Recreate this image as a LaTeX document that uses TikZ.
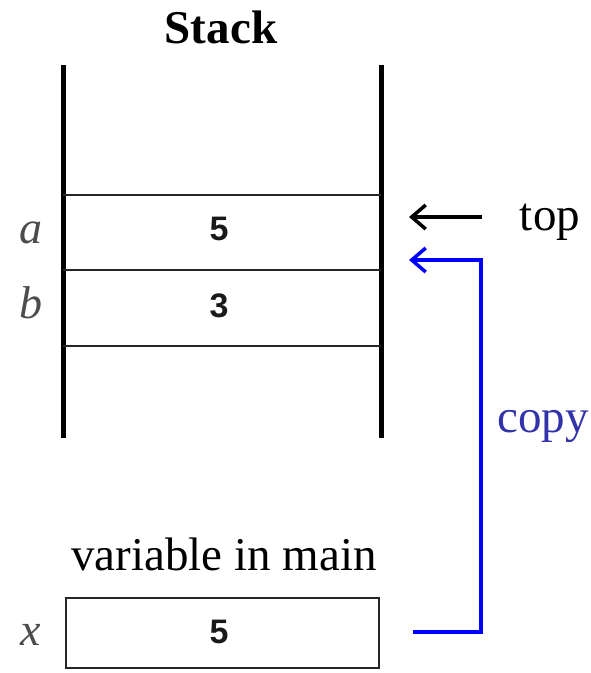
\documentclass[tikz,border=0pt]{standalone}
\usepackage{fontspec}
\setmainfont{Liberation Serif}
\newfontfamily\digitfont{Liberation Sans}
\usetikzlibrary{arrows.meta}
\definecolor{copyblue}{RGB}{50,50,170}
\begin{document}
\begin{tikzpicture}[x=1pt,y=-1pt,
  wall/.style={line width=5pt},
  sep/.style={line width=2.2pt, black!85},
  num/.style={font=\digitfont\bfseries\fontsize{34}{34}\selectfont, text=black!90},
  var/.style={font=\itshape\fontsize{46}{46}\selectfont, text=black!70, anchor=base},
  lbl/.style={font=\fontsize{47}{47}\selectfont, anchor=base},
  arr/.style={line width=3.5pt,-{Straight Barb[length=14pt,width=24pt,line width=3.5pt]}}]
\useasboundingbox (0,0) rectangle (591,673);
% walls
\coordinate (lt) at (63,65); \coordinate (lb) at (63,438);
\coordinate (rt) at (381,65); \coordinate (rb) at (381,438);
\draw[wall] (lt) -- (lb);
\draw[wall] (rt) -- (rb);
% separators
\coordinate (s1l) at (63,195); \coordinate (s1r) at (381,195);
\coordinate (s2l) at (63,270); \coordinate (s2r) at (381,270);
\coordinate (s3l) at (63,346); \coordinate (s3r) at (381,346);
\draw[sep] (s1l) -- (s1r);
\draw[sep] (s2l) -- (s2r);
\draw[sep] (s3l) -- (s3r);
% title
\node[lbl, font=\bfseries\fontsize{47}{47}\selectfont] (title) at (221,43) {Stack};
% cells
\node[num] (va) at (219,229) {5};
\node[num] (vb) at (219,306) {3};
\node[var] (na) at (31,243) {a};
\node[var] (nb) at (31,318) {b};
% top pointer
\node[lbl] (top) at (550,230) {top};
\coordinate (ts) at (482,217);
\coordinate (te) at (409,217);
\draw[arr] (ts) -- (te);
% variable in main
\node[lbl] (vm) at (224,570) {variable in main};
\node[draw, line width=2pt, black!85, minimum width=313pt, minimum height=70pt, inner sep=0pt] (box) at (222.5,633) {};
\node[num] at (219,632) (vx) {5};
\node[var] (nx) at (31,645) {x};
% copy arrow
\coordinate (cs) at (413,632);
\coordinate (cc1) at (481,632);
\coordinate (cc2) at (481,260);
\coordinate (ce) at (409,260);
\draw[arr, blue, line join=miter] (cs) -- (cc1) -- (cc2) -- (ce);
\node[lbl, text=copyblue] (copy) at (543,432) {copy};
\end{tikzpicture}
\end{document}
